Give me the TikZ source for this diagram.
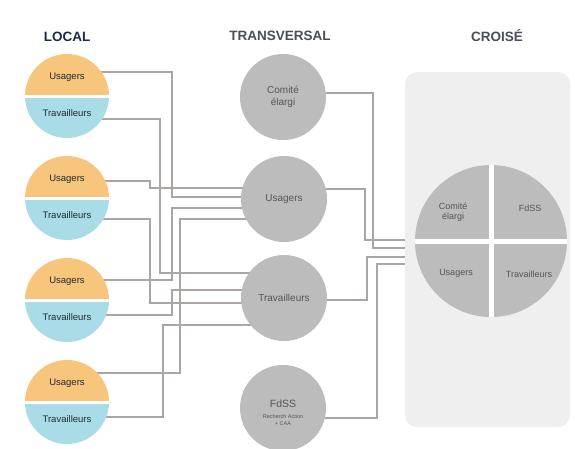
\documentclass[tikz,border=0pt]{standalone}
\usepackage{fontspec}
\setmainfont{Liberation Sans}
\usetikzlibrary{calc}
\pgfdeclarelayer{bg}\pgfdeclarelayer{mid}
\pgfsetlayers{bg,mid,main}
\definecolor{orangec}{HTML}{F8C57C}
\definecolor{bluec}{HTML}{A9DCE7}
\definecolor{grayc}{HTML}{BCBCBC}
\definecolor{linec}{HTML}{ABA6A4}
\definecolor{panelc}{HTML}{EFEFEF}
\definecolor{navy}{HTML}{1E2B45}
\definecolor{headc}{HTML}{4A4E57}
\definecolor{txtc}{HTML}{1F2A30}
\definecolor{ptxt}{HTML}{555555}
\begin{document}
\begin{tikzpicture}[x=1pt,y=-1pt,
  conn/.style={draw=linec, line width=1.6pt},
  lbl/.style={font=\fontsize{9.5}{10}\selectfont, text=txtc, inner sep=0pt},
  midc/.style={circle, fill=grayc, minimum size=86pt, inner sep=0pt, align=center, font=\fontsize{10}{11.5}\selectfont, text=ptxt},
  plbl/.style={font=\fontsize{9}{10.5}\selectfont, text=ptxt, align=center, inner sep=0pt},
  head/.style={font=\bfseries\fontsize{13.5}{14}\selectfont, inner sep=0pt}]
\useasboundingbox (0,0) rectangle (575,448);
\begin{pgfonlayer}{bg}
\fill[white] (0,0) rectangle (575,448);
\node[fill=panelc, rounded corners=12pt, minimum width=165pt, minimum height=355pt, inner sep=0pt] (panel) at (487.5,249.5) {};
\end{pgfonlayer}
% headers
\node[head, text=navy] (hl) at (67,37) {LOCAL};
\node[head, text=headc] (ht) at (280,36) {TRANSVERSAL};
\node[head, text=headc] (hc) at (497,36) {CROISÉ};
% local circles
\foreach \c/\i in {96/1,198/2,300/3,402/4} {
  \begin{scope}
    \clip (20,\c-2) rectangle (115,\c-50);
    \fill[orangec] (67,\c) circle[radius=42];
  \end{scope}
  \begin{scope}
    \clip (20,\c+2) rectangle (115,\c+50);
    \fill[bluec] (67,\c) circle[radius=42];
  \end{scope}
  \node[lbl] (u\i) at (67,\c-19) {Usagers};
  \node[lbl] (t\i) at (67,\c+17) {Travailleurs};
}
% transversal circles
\node[midc] (mC) at (283,97) {Comité\\élargi};
\node[midc] (mU) at (284,199) {Usagers};
\node[midc] (mT) at (284,298) {Travailleurs};
\node[midc] (mF) at (283,408) {};
\node[plbl, font=\fontsize{10.5}{11}\selectfont] (fd) at (283,404) {FdSS};
\node[plbl, font=\fontsize{5.5}{7}\selectfont] (fr) at (283,420) {Recherch Action\\+ CAA};
% pie
\node[circle, fill=grayc, minimum size=152pt, inner sep=0pt] (pie) at (491,241) {};
\draw[white, line width=5pt] (pie.north) -- (pie.south);
\draw[white, line width=5pt] (pie.west) -- (pie.east);
\node[plbl] (pc) at (453,212) {Comité\\élargi};
\node[plbl] (pf) at (530,208) {FdSS};
\node[plbl] (pu) at (456,273) {Usagers};
\node[plbl] (pt) at (529,274) {Travailleurs};
% connectors
\begin{pgfonlayer}{mid}
\draw[conn] (u1 |- 0,72) -| (172,197) -- (mU |- 0,197);
\draw[conn] (t1 |- 0,119) -| (160,273) -- (mT |- 0,273);
\draw[conn] (u2 |- 0,181) -| (150,188) -- (mU |- 0,188);
\draw[conn] (t2 |- 0,219) -| (150,303) -- (mT |- 0,303);
\draw[conn] (u3 |- 0,280) -| (172,208) -- (mU |- 0,208);
\draw[conn] (t3 |- 0,315) -| (172,290) -- (mT |- 0,290);
\draw[conn] (u4 |- 0,373) -| (180,219) -- (mU |- 0,219);
\draw[conn] (t4 |- 0,417) -| (163,325) -- (mT |- 0,325);
\draw[conn] (mC |- 0,93) -| (373,248) -- (panel.west |- 0,248);
\draw[conn] (mU |- 0,189) -| (365,240) -- (panel.west |- 0,240);
\draw[conn] (mT |- 0,300) -| (367,257) -- (panel.west |- 0,257);
\draw[conn] (mF |- 0,418) -| (377,264) -- (panel.west |- 0,264);
\end{pgfonlayer}
\end{tikzpicture}
\end{document}
